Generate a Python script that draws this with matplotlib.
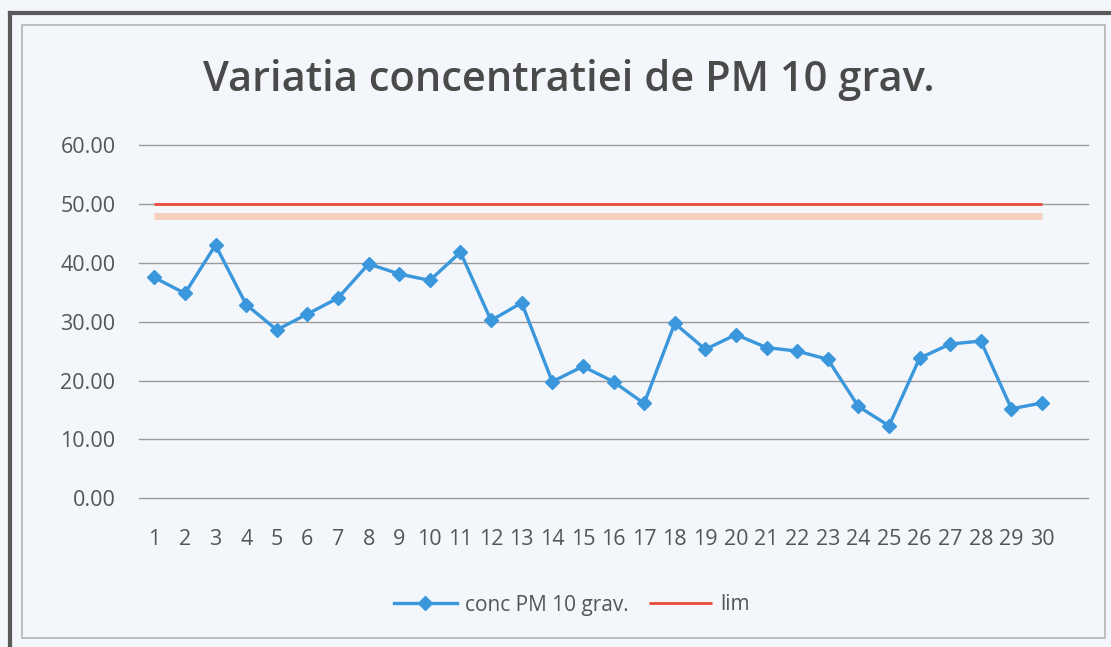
import matplotlib
matplotlib.use("Agg")
import matplotlib.pyplot as plt
from matplotlib.patches import Rectangle
from matplotlib.lines import Line2D

days = list(range(1, 31))
conc_pm10 = [37.5, 34.8, 43.0, 32.9, 28.6, 31.3, 34.0, 39.8, 38.1, 37.0,
             41.8, 30.2, 33.2, 19.8, 22.4, 19.8, 16.1, 29.7, 25.3, 27.8,
             25.6, 25.0, 23.6, 15.6, 12.3, 23.8, 26.2, 26.7, 15.2, 16.2]
lim = [50.0] * 30
lim_ghost = [48.0] * 30
yticks = [0, 10, 20, 30, 40, 50, 60]
xtick_labels = [str(d) for d in days]

plt.rcParams['font.family'] = ['Open Sans', 'DejaVu Sans']
bg = '#f3f6fa'
fig = plt.figure(figsize=(11.11, 6.47), dpi=100, facecolor=bg)

# frames
fig.add_artist(Rectangle((22/1111, 1-638/647), (1105-22)/1111, (638-25)/647,
                         transform=fig.transFigure, fill=False,
                         edgecolor='#b5b5b5', lw=1.2))
fig.add_artist(Line2D([10/1111, 10/1111], [0, 1-13/647], transform=fig.transFigure,
                      color='#5a5a5a', lw=3))
fig.add_artist(Line2D([10/1111, 1], [1-13/647, 1-13/647], transform=fig.transFigure,
                      color='#5a5a5a', lw=3))

ax = fig.add_axes([139/1111, 1-498.3/647, (1088-139)/1111, (498.3-145)/647])
ax.set_facecolor(bg)
ax.set_xlim(0.5, 31.5)
ax.set_ylim(0, 60)
ax.set_yticks(yticks)
ax.set_yticklabels([f"{v:.2f}" for v in yticks])
ax.set_xticks(days)
ax.set_xticklabels(xtick_labels)
ax.tick_params(axis='both', length=0, labelsize=15.5, colors='#555555')
ax.tick_params(axis='y', pad=17)
ax.tick_params(axis='x', pad=22)
for s in ax.spines.values():
    s.set_visible(False)
ax.grid(axis='y', color='#9a9a9a', lw=1.0)
for gl in ax.get_ygridlines():
    gl.set_clip_on(False)
ax.set_axisbelow(True)

ax.plot(days, lim_ghost, color='#f9b596', lw=5, alpha=0.6, solid_capstyle='butt', label='_nolegend_')
ax.plot(days, lim, color='#ec4a3c', lw=2.0, solid_capstyle='butt', label='lim')
ax.plot(days, conc_pm10, color='#3b97dc', lw=2.4, marker='D', markersize=7.5,
        label='conc PM 10 grav.')

handles, labels = ax.get_legend_handles_labels()
order = [1, 0]
leg = ax.legend([handles[i] for i in order], [labels[i] for i in order],
                loc='center', bbox_to_anchor=(572/1111, 1-605/647),
                bbox_transform=fig.transFigure, ncol=2, frameon=False,
                fontsize=15, handlelength=3.0, columnspacing=1.0, handletextpad=0.4)
for t in leg.get_texts():
    t.set_color('#555555')

fig.text(569/1111, 1-80/647, 'Variatia concentratiei de PM 10 grav.',
         ha='center', va='center', fontsize=30, fontweight='semibold', color='#4a4a4a')

fig.savefig('out.png', dpi=100, facecolor=bg)
